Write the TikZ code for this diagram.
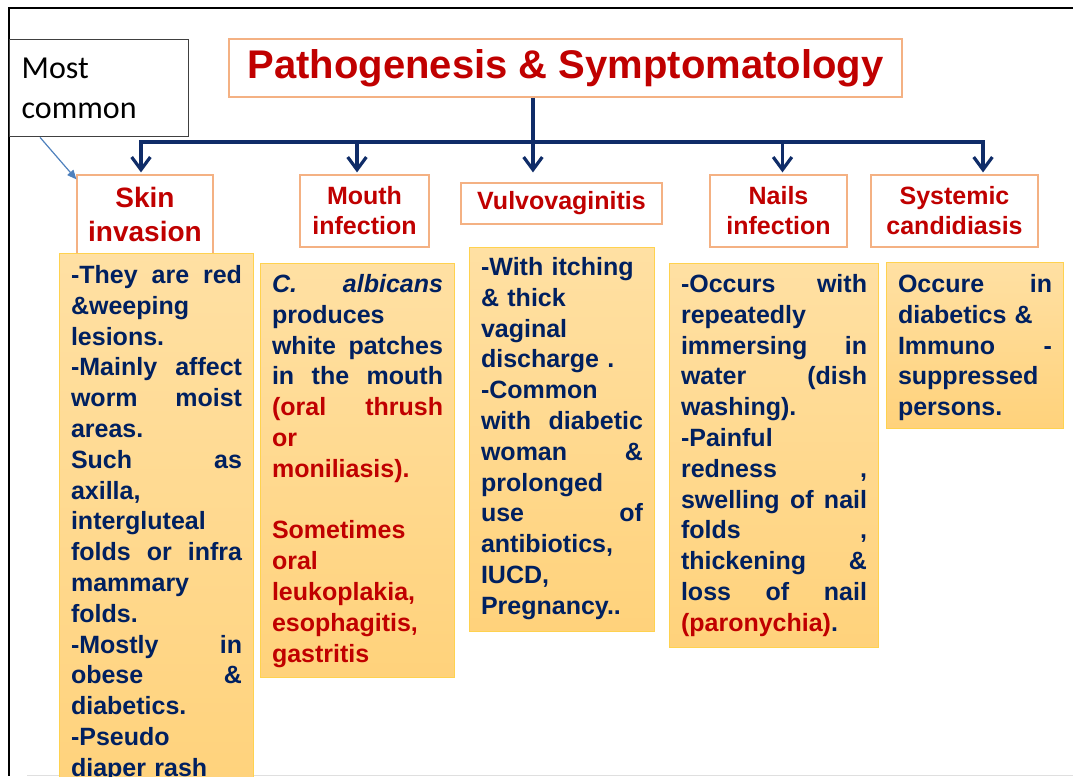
\documentclass[tikz,border=0pt]{standalone}
\usepackage{fontspec}
\setmainfont{Liberation Sans}
\newfontfamily\calibri{Carlito}
\usetikzlibrary{arrows.meta,positioning}
\definecolor{navy}{HTML}{002060}
\definecolor{alert}{HTML}{C00000}
\definecolor{peach}{HTML}{F4B183}
\definecolor{detailtop}{HTML}{FFE0A3}
\definecolor{detailbot}{HTML}{FFD27B}
\definecolor{detailedge}{HTML}{FFD24F}
\definecolor{linkblue}{HTML}{0F2C68}
\definecolor{noteblue}{HTML}{4F81BD}
\tikzset{
  headbox/.style={rectangle, draw=peach, line width=0.9pt, fill=white, text=alert, inner sep=0pt, font=\fontsize{30}{36}\selectfont\bfseries},
  catbox/.style={rectangle, draw=peach, line width=0.9pt, fill=white, text=alert, align=center, inner sep=0pt, font=\fontsize{18.75}{22.5}\selectfont\bfseries},
  detailbox/.style={rectangle, draw=detailedge, line width=0.8pt, top color=detailtop, bottom color=detailbot, text=navy, align=left, anchor=north west, inner xsep=8.625pt, inner ysep=0pt, font=\fontsize{18.75}{23.1}\selectfont\bfseries},
  notebox/.style={rectangle, draw=black!75, line width=1pt, fill=white, align=left, anchor=north west, inner xsep=9pt, font=\calibri\fontsize{24}{30}\selectfont},
  link/.style={draw=linkblue, line width=2.4pt, -{Straight Barb[length=9.5pt,width=14pt]}},
  pointer/.style={draw=noteblue, line width=0.9pt, -{Triangle[length=7pt,width=6pt]}}
}

\begin{document}
\begin{tikzpicture}[x=0.75pt, y=-0.75pt]
\clip (0,0) rectangle (1073,776);
% slide frame
\draw[line width=1.6pt] (1073,8) -- (9,8) -- (9,776);
\draw[gray!25] (27,775) -- (1073,775);

\node[headbox, minimum width=504.75pt, minimum height=43.5pt] (head) at (565.5,68) {Pathogenesis \& Symptomatology};
\node[notebox, text width=116.25pt, minimum height=72.75pt] (most) at (9,39) {Most\\common};

% headings
\node[catbox, minimum width=102pt, minimum height=59.25pt, font=\fontsize{21}{25.5}\selectfont\bfseries] (skin) at (145,214.5) {Skin\\invasion};
\node[catbox, minimum width=96.75pt, minimum height=54pt] (mouth) at (364.5,211) {Mouth\\infection};
\node[catbox, minimum width=150.75pt, minimum height=30.75pt] (vulvo) at (561.5,203.5) {Vulvovaginitis};
\node[catbox, minimum width=102.75pt, minimum height=54pt] (nails) at (778.5,211) {Nails\\infection};
\node[catbox, minimum width=125.25pt, minimum height=54pt] (sys) at (954.5,211) {Systemic\\candidiasis};

% details
\node[detailbox, text width=128.25pt, text height=22.5pt, text depth=387.75pt] (skininfo) at (59,253) {%
-They\hfill are\hfill red\\
\&weeping\\
lesions.\\
-Mainly\hfill affect\\
worm\hfill moist\\
areas.\\
Such\hfill as\\
axilla,\\
intergluteal\\
folds\hfill or\hfill infra\\
mammary\\
folds.\\
-Mostly\hfill in\\
obese\hfill \&\\
diabetics.\\
-Pseudo\\
diaper rash};

\node[detailbox, text width=128.25pt, text height=21.75pt, text depth=288.75pt] (mouthinfo) at (260,263) {%
\textit{C.}\hfill\textit{albicans}\\
produces\\
white\hfill patches\\
in\hfill the\hfill mouth\\
{\color{alert}(oral\hfill thrush}\\
{\color{alert}or}\\
{\color{alert}moniliasis).}\\
\mbox{}\\
{\color{alert}Sometimes}\\
{\color{alert}oral}\\
{\color{alert}leukoplakia,}\\
{\color{alert}esophagitis,}\\
{\color{alert}gastritis}};

\node[detailbox, text width=121.5pt, text height=21pt, text depth=267pt] (vulvoinfo) at (469,247) {%
-With itching\\
\& thick\\
vaginal\\
discharge .\\
-Common\\
with\hfill diabetic\\
woman\hfill \&\\
prolonged\\
use\hfill of\\
antibiotics,\\
IUCD,\\
Pregnancy..};

\node[detailbox, text width=139.5pt, text height=21.75pt, text depth=266.25pt] (nailsinfo) at (669,263) {%
-Occurs\hfill with\\
repeatedly\\
immersing\hfill in\\
water\hfill (dish\\
washing).\\
-Painful\\
redness\hfill ,\\
swelling\hfill of\hfill nail\\
folds\hfill ,\\
thickening\hfill \&\\
loss\hfill of\hfill nail\\
{\color{alert}(paronychia)}.};

\node[detailbox, text width=115.5pt, text height=22.5pt, text depth=102pt] (sysinfo) at (886,262) {%
Occure\hfill in\\
diabetics \&\\
Immuno\hfill -\\
suppressed\\
persons.};

% connectors
\coordinate (hub) at (533,142);
\draw[link, -] (hub |- head.south) -- (hub);
\draw[link, shorten >=1.5pt] (hub) -| ([xshift=-3pt]skin.north);
\draw[link, shorten >=1.5pt] (hub) -| ([xshift=-5.6pt]mouth.north);
\draw[link, shorten >=7.5pt] (hub) -| ([xshift=-21.4pt]vulvo.north);
\draw[link, shorten >=1.5pt] (hub) -| ([xshift=3pt]nails.north);
\draw[link, shorten >=1.5pt] (hub) -| ([xshift=21.4pt]sys.north);
\draw[pointer] ([xshift=23.25pt]most.south west) -- ([yshift=-3.75pt]skin.north west);
\end{tikzpicture}
\end{document}
